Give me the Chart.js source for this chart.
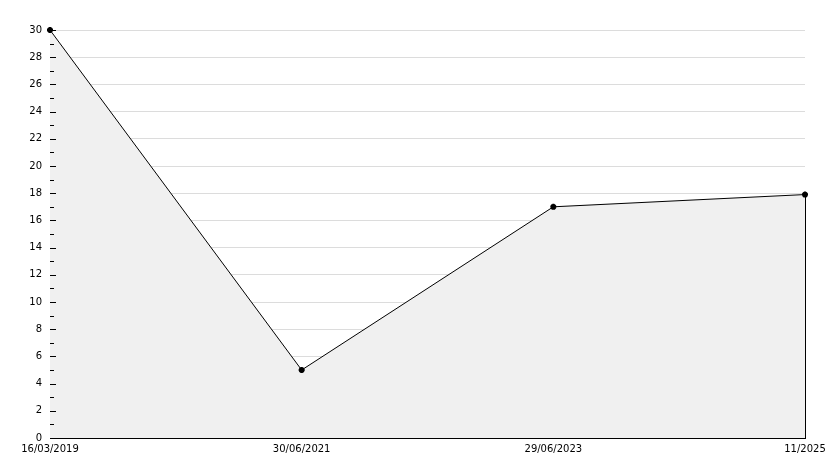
<!DOCTYPE html>
<html>
<head>
<meta charset="utf-8">
<script src="https://cdn.jsdelivr.net/npm/chart.js@4"></script>
<style>
  html, body { margin: 0; padding: 0; background: #fff; }
  canvas { display: block; }
</style>
</head>
<body>
<canvas id="chart" width="834" height="468"></canvas>
<script>
// data
const dateLabels = ['16/03/2019', '30/06/2021', '29/06/2023', '11/2025'];
const values = [30, 5, 17, 17.9];
const yMin = 0;
const yMax = 30;
const yStep = 2;

// inward tick marks on the y axis + right edge of the filled area
const extras = {
  id: 'extras',
  afterDatasetsDraw(chart) {
    const ctx = chart.ctx;
    const y = chart.scales.y;
    const x = chart.scales.x;
    const left = chart.chartArea.left;
    ctx.save();
    ctx.strokeStyle = '#000';
    ctx.lineWidth = 1;
    ctx.beginPath();
    for (let v = yMin; v <= yMax; v += 1) {
      const py = Math.round(y.getPixelForValue(v)) + 0.5;
      const len = v % yStep === 0 ? 6 : 4;
      ctx.moveTo(left, py);
      ctx.lineTo(left + len, py);
    }
    // right vertical edge of the area
    const last = values.length - 1;
    const px = Math.round(x.getPixelForValue(last)) + 0.5;
    ctx.moveTo(px, y.getPixelForValue(values[last]));
    ctx.lineTo(px, y.getPixelForValue(0));
    ctx.stroke();
    ctx.restore();
  }
};

const font = { family: 'DejaVu Sans', size: 10 };

new Chart(document.getElementById('chart').getContext('2d'), {
  type: 'line',
  data: {
    labels: dateLabels,
    datasets: [{
      data: values,
      borderColor: '#000',
      borderWidth: 1,
      backgroundColor: '#f0f0f0',
      fill: 'origin',
      tension: 0,
      clip: false,
      pointStyle: 'star',
      pointRadius: 3,
      pointBorderWidth: 2,
      pointBorderColor: '#000',
      pointBackgroundColor: '#000'
    }]
  },
  options: {
    responsive: false,
    animation: false,
    devicePixelRatio: 1,
    layout: { padding: { top: 30, right: 29, left: 0, bottom: 0 } },
    plugins: {
      legend: { display: false },
      tooltip: { enabled: false }
    },
    scales: {
      x: {
        offset: false,
        grid: { display: false, drawTicks: false },
        border: { color: '#000', width: 1 },
        ticks: {
          color: '#000',
          font: font,
          autoSkip: false,
          maxRotation: 0,
          padding: 5
        },
        afterFit(scale) { scale.height = 30; }
      },
      y: {
        min: yMin,
        max: yMax,
        grid: { color: '#dcdcdc', drawTicks: false },
        border: { color: '#000', width: 1 },
        ticks: {
          stepSize: yStep,
          color: '#000',
          font: font,
          padding: 8
        },
        afterFit(scale) { scale.width = 50; }
      }
    }
  },
  plugins: [extras]
});
</script>
</body>
</html>
